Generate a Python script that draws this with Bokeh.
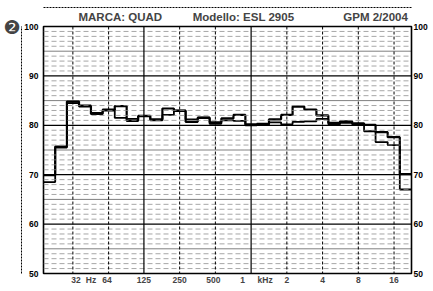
import math
from bokeh.plotting import figure
from bokeh.models import FixedTicker, Span, LinearAxis, Range1d, LinearScale
from bokeh.embed import file_html
from bokeh.resources import INLINE

# ---- data (third-octave bands, dB) ----
freqs = [20, 25, 31.5, 40, 50, 63, 80, 100, 125, 160, 200, 250, 315, 400, 500,
         630, 800, 1000, 1250, 1600, 2000, 2500, 3150, 4000, 5000, 6300, 8000,
         10000, 12500, 16000, 20000]
level_a = [69.9, 75.7, 84.8, 84.0, 82.3, 83.0, 83.9, 80.9, 81.9, 81.2, 83.4, 82.9,
           80.7, 81.5, 80.6, 81.4, 82.1, 80.2, 80.3, 81.2, 82.1, 83.8, 83.2, 82.0,
           80.5, 80.8, 80.4, 80.1, 78.6, 77.6, 70.1]
level_b = [68.5, 75.5, 84.5, 83.8, 82.5, 83.2, 81.5, 81.3, 81.8, 81.0, 82.1, 83.0,
           81.2, 81.6, 80.3, 81.0, 80.9, 80.0, 80.1, 80.6, 80.2, 80.7, 80.8, 81.3,
           80.2, 80.5, 80.2, 78.8, 76.6, 76.0, 67.0]
y_ticks = [50, 60, 70, 80, 90, 100]
octave_freqs = [31.5, 63, 125, 250, 500, 1000, 2000, 4000, 8000, 16000]
solid_octaves = [125, 1000]
x_label_freqs = [33.5, 44.8, 61, 125, 250, 480, 848, 1311, 2000, 4000, 8000, 16000]
x_label_texts = ["32", "Hz", "64", "125", "250", "500", "1", "kHz", "2", "4", "8", "16"]
header_texts = ["MARCA: QUAD", "Modello: ESL 2905", "GPM 2/2004"]
badge = "\u2777"

# band edges (geometric means between centres)
edges = [freqs[0] * 2 ** (-1 / 6)]
for i in range(len(freqs) - 1):
    edges.append(math.sqrt(freqs[i] * freqs[i + 1]))
edges.append(freqs[-1] * 2 ** (1 / 6))

W, H = 433, 291
BL, BR, BT, BB = 42, 22, 26, 18
Y0, Y1 = 50, 100
p = figure(width=W, height=H, x_axis_type="log",
           x_range=Range1d(edges[0], edges[-1]), y_range=Range1d(Y0, Y1),
           output_backend="svg", toolbar_location=None,
           min_border_left=BL, min_border_right=BR, min_border_top=BT, min_border_bottom=BB)
p.background_fill_color = "white"
p.border_fill_color = "white"
p.outline_line_color = "black"
p.outline_line_width = 1.6
p.xgrid.visible = False
p.ygrid.visible = False

# page-pixel helper range for header placement
p.extra_x_ranges = {"px": Range1d(BL, W - BR)}
p.extra_x_scales = {"px": LinearScale()}

# horizontal grid
for v in range(Y0 + 1, Y1):
    if v % 10 == 0:
        p.add_layout(Span(location=v, dimension="width", line_color="black", line_width=1.3))
    elif v % 5 == 0:
        p.add_layout(Span(location=v, dimension="width", line_color="black", line_width=1,
                          line_dash="1 1"))
    else:
        p.add_layout(Span(location=v, dimension="width", line_color="#8a8a8a", line_width=1,
                          line_dash="5 3", line_alpha=0.75))
# vertical grid
for f in octave_freqs:
    if f in solid_octaves:
        p.add_layout(Span(location=f, dimension="height", line_color="black", line_width=1.2))
    else:
        p.add_layout(Span(location=f, dimension="height", line_color="black", line_width=1,
                          line_dash="3 2"))

# curves
p.step(x=edges, y=level_b + [level_b[-1]], mode="after", line_color="black", line_width=1.8)
p.step(x=edges, y=level_a + [level_a[-1]], mode="after", line_color="black", line_width=2.2)

def plain(ax):
    ax.axis_line_color = None
    ax.major_tick_line_color = None
    ax.minor_tick_line_color = None
    ax.major_tick_out = 0
    ax.major_tick_in = 0
    ax.minor_tick_out = 0
    ax.minor_tick_in = 0

font = "Liberation Sans"
p.yaxis[0].ticker = FixedTicker(ticks=y_ticks, minor_ticks=[])
right = LinearAxis(ticker=FixedTicker(ticks=y_ticks, minor_ticks=[]))
p.add_layout(right, "right")
for ax in (p.yaxis[0], right):
    plain(ax)
    ax.major_label_text_font = font
    ax.major_label_text_font_style = "bold"
    ax.major_label_text_font_size = "8.5px"
    ax.major_label_text_color = "black"
p.yaxis[0].major_label_standoff = 5
right.major_label_standoff = 2

xa = p.xaxis[0]
xa.ticker = FixedTicker(ticks=x_label_freqs, minor_ticks=[])
xa.major_label_overrides = {f: t for f, t in zip(x_label_freqs, x_label_texts)}
plain(xa)
xa.major_label_text_font = font
xa.major_label_text_font_style = "bold"
xa.major_label_text_font_size = "8.5px"
xa.major_label_standoff = 1

# header as an axis above the frame (positions in page pixels)
header_pos = [119.0, 242.5, 375.0]
top = LinearAxis(x_range_name="px", ticker=FixedTicker(ticks=header_pos, minor_ticks=[]))
top.major_label_overrides = {f: t for f, t in zip(header_pos, header_texts)}
plain(top)
top.major_label_text_font = font
top.major_label_text_font_style = "bold"
top.major_label_text_font_size = "11.5px"
top.major_label_standoff = 4
p.add_layout(top, "above")

# outer border line above the header
top2 = LinearAxis(x_range_name="px", ticker=FixedTicker(ticks=[200.0], minor_ticks=[]))
plain(top2)
top2.major_label_overrides = {200.0: ""}
top2.major_label_text_font_size = "1px"
top2.major_label_standoff = 0
top2.axis_line_color = "black"
top2.axis_line_dash = "2 1"
top2.axis_line_width = 1
p.add_layout(top2, "above")

# outer border line on the left with the badge
left2 = LinearAxis(ticker=FixedTicker(ticks=[75.0], minor_ticks=[]))
plain(left2)
left2.major_label_overrides = {75.0: ""}
left2.major_label_text_font_size = "1px"
left2.major_label_standoff = 0
left2.axis_line_color = "black"
left2.axis_line_dash = "2 1"
left2.axis_line_width = 1
left2.axis_label = badge
left2.axis_label_text_font = "DejaVu Sans"
left2.axis_label_text_font_style = "normal"
left2.axis_label_text_font_size = "19px"
left2.axis_label_standoff = 1
try:
    left2.axis_label_orientation = "horizontal"
    left2.axis_label_align = "end"
except Exception:
    left2.axis_label = ""
p.add_layout(left2, "left")

open("out.html", "w").write(file_html(p, INLINE))
